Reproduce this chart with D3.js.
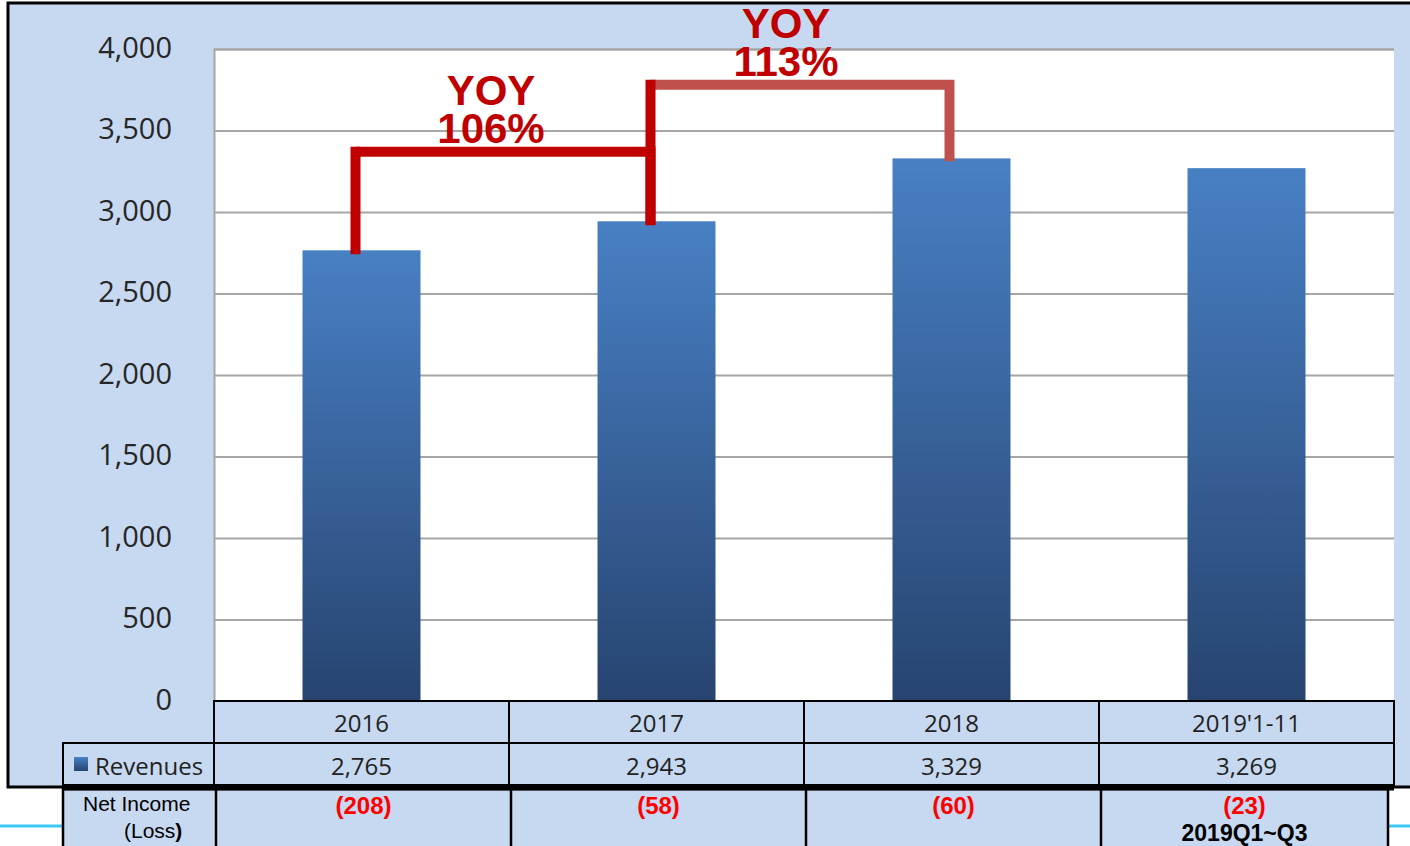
<!DOCTYPE html>
<html>
<head>
<meta charset="utf-8">
<script src="https://cdn.jsdelivr.net/npm/d3@7"></script>
<style>
  html, body { margin: 0; padding: 0; background: #fff; }
  svg { display: block; }
</style>
</head>
<body>
<div id="chart"></div>
<script>
// chart data
const categories = ["2016", "2017", "2018", "2019'1-11"];
const revenues = [2765, 2943, 3329, 3269];
const netIncome = ["(208)", "(58)", "(60)", "(23)"];
const netIncomeNote = ["", "", "", "2019Q1~Q3"];
const yTicks = [0, 500, 1000, 1500, 2000, 2500, 3000, 3500, 4000];

// YOY brackets: from / to category, height of the bracket (in revenue units), label
const yoyFrom = ["2016", "2017"];
const yoyTo = ["2017", "2018"];
const yoyLevel = [3370, 3780];
const yoyLabel = ["106%", "113%"];
const yoyColor = ["#C00000", "#C0504D"];

const width = 1410, height = 846;
const plot = { left: 214, right: 1394, top: 49, bottom: 701 };

const svg = d3.select("#chart").append("svg")
    .attr("width", width)
    .attr("height", height);

const defs = svg.append("defs");
const grad = defs.append("linearGradient")
    .attr("id", "barGrad")
    .attr("x1", 0).attr("y1", 0).attr("x2", 0).attr("y2", 1);
grad.append("stop").attr("offset", "0%").attr("stop-color", "#4880C4");
grad.append("stop").attr("offset", "100%").attr("stop-color", "#274470");

// scales
const x = d3.scaleBand()
    .domain(categories)
    .range([plot.left, plot.right])
    .paddingInner(0.6)
    .paddingOuter(0.3);

const y = d3.scaleLinear()
    .domain([0, 4000])
    .range([plot.bottom, plot.top]);

const step = x.step();
const colLeft = c => x(c) - x.paddingOuter() * step;

// outer frame (chart area)
svg.append("rect")
    .attr("x", 8).attr("y", 3)
    .attr("width", 1420).attr("height", 784)
    .attr("fill", "#C6D9F0")
    .attr("stroke", "#000")
    .attr("stroke-width", 3);

// cyan slide rule under the table
svg.append("line")
    .attr("x1", 0).attr("x2", width)
    .attr("y1", 826).attr("y2", 826)
    .attr("stroke", "#3CC8F5")
    .attr("stroke-width", 3);

// plot area
svg.append("rect")
    .attr("x", plot.left).attr("y", plot.top)
    .attr("width", plot.right - plot.left)
    .attr("height", plot.bottom - plot.top)
    .attr("fill", "#fff");

// gridlines + y axis
const yAxis = d3.axisLeft(y)
    .tickValues(yTicks)
    .tickSize(-(plot.right - plot.left))
    .tickPadding(42)
    .tickFormat(d3.format(","));

const gy = svg.append("g")
    .attr("transform", `translate(${plot.left},0)`)
    .call(yAxis);
gy.select(".domain")
    .attr("stroke", "#A6A6A6")
    .attr("stroke-width", 2);
gy.selectAll(".tick line")
    .attr("stroke", "#A6A6A6")
    .attr("stroke-width", 2);
gy.selectAll(".tick text")
    .attr("fill", "#262626")
    .style("font-family", "'Open Sans', sans-serif")
    .style("font-size", "29px")
    .attr("dy", "0.28em");

// bars
svg.append("g")
  .selectAll("rect")
  .data(revenues)
  .join("rect")
    .attr("x", (d, i) => x(categories[i]))
    .attr("y", d => y(d))
    .attr("width", x.bandwidth())
    .attr("height", d => y(0) - y(d))
    .attr("fill", "url(#barGrad)");

// YOY brackets
const cx = c => x(c) + x.bandwidth() / 2 - 6;
const valueOf = c => revenues[categories.indexOf(c)];
const brackets = svg.append("g").attr("fill", "none");

yoyFrom.forEach((from, i) => {
  const to = yoyTo[i];
  const ly = y(yoyLevel[i]);
  // top bar + right leg in bracket colour
  brackets.append("path")
      .attr("d", `M${cx(from)},${ly} H${cx(to) + (i ? 4 : 0)} V${y(valueOf(to)) + 3}`)
      .attr("stroke", yoyColor[i])
      .attr("stroke-width", 10);
});
yoyFrom.forEach((from, i) => {
  // left legs are drawn in dark red
  const ly = y(yoyLevel[i]);
  brackets.append("line")
      .attr("x1", cx(from)).attr("x2", cx(from))
      .attr("y1", ly - 5).attr("y2", y(valueOf(from)) + 4)
      .attr("stroke", "#C00000")
      .attr("stroke-width", 10);
});

const yoyText = svg.append("g")
    .attr("fill", "#C00000")
    .attr("text-anchor", "middle")
    .style("font-family", "'Liberation Sans', Arial, sans-serif")
    .style("font-weight", "bold")
    .style("font-size", "42px");

yoyFrom.forEach((from, i) => {
  const mx = (cx(from) + cx(yoyTo[i])) / 2 - 12;
  const ly = y(yoyLevel[i]);
  const t = yoyText.append("text");
  t.append("tspan").attr("x", mx).attr("y", ly - 47).text("YOY");
  t.append("tspan").attr("x", mx).attr("y", ly - 9).text(yoyLabel[i]);
});

// data table
const table = svg.append("g");
const row1 = { top: 701, h: 42 };
const row2 = { top: 743, h: 42 };
const row3 = { top: 789, h: 70 };
const labelLeft = 63;
const tableFont = "'Open Sans', sans-serif";

categories.forEach((c, i) => {
  const x0 = colLeft(c);
  [row1, row2].forEach(r => {
    table.append("rect")
        .attr("x", x0).attr("y", r.top)
        .attr("width", step).attr("height", r.h)
        .attr("fill", "#C6D9F0")
        .attr("stroke", "#000")
        .attr("stroke-width", 2);
  });
  table.append("text")
      .attr("x", x0 + step / 2).attr("y", row1.top + 31)
      .attr("text-anchor", "middle")
      .attr("fill", "#222")
      .style("font-family", tableFont)
      .style("font-size", "24px")
      .text(c);
  table.append("text")
      .attr("x", x0 + step / 2).attr("y", row2.top + 32)
      .attr("text-anchor", "middle")
      .attr("fill", "#222")
      .style("font-family", tableFont)
      .style("font-size", "24px")
      .text(d3.format(",")(revenues[i]));
});

// legend cell
table.append("rect")
    .attr("x", labelLeft).attr("y", row2.top)
    .attr("width", plot.left - labelLeft).attr("height", row2.h)
    .attr("fill", "#C6D9F0")
    .attr("stroke", "#000")
    .attr("stroke-width", 2);
table.append("rect")
    .attr("x", 74).attr("y", row2.top + 14)
    .attr("width", 14).attr("height", 14)
    .attr("fill", "url(#barGrad)");
table.append("text")
    .attr("x", 95).attr("y", row2.top + 32)
    .attr("fill", "#222")
    .style("font-family", tableFont)
    .style("font-size", "24px")
    .text("Revenues");

// net income row (separate table pasted underneath)
const row3Right = plot.right - 6;
table.append("rect")
    .attr("x", labelLeft).attr("y", row3.top)
    .attr("width", row3Right - labelLeft).attr("height", row3.h)
    .attr("fill", "#C6D9F0")
    .attr("stroke", "#000")
    .attr("stroke-width", 2.5);
const row3Edges = categories.map(c => colLeft(c) + 2);
row3Edges.forEach(e => {
  table.append("line")
      .attr("x1", e).attr("x2", e)
      .attr("y1", row3.top).attr("y2", row3.top + row3.h)
      .attr("stroke", "#000")
      .attr("stroke-width", 2.5);
});
table.append("line")
    .attr("x1", labelLeft - 1).attr("x2", plot.right)
    .attr("y1", row3.top - 1).attr("y2", row3.top - 1)
    .attr("stroke", "#000")
    .attr("stroke-width", 5);

const nlab = table.append("text")
    .attr("fill", "#000")
    .style("font-family", "'Liberation Sans', Arial, sans-serif")
    .style("font-size", "21px");
nlab.append("tspan").attr("x", 83).attr("y", 811).text("Net Income");
nlab.append("tspan").attr("x", 124).attr("y", 838).text("(Loss");
nlab.append("tspan").style("font-weight", "bold").text(")");

netIncome.forEach((v, i) => {
  const left = row3Edges[i];
  const right = i < categories.length - 1 ? row3Edges[i + 1] : row3Right;
  table.append("text")
      .attr("x", (left + right) / 2).attr("y", 814)
      .attr("text-anchor", "middle")
      .attr("fill", "#FF0000")
      .style("font-family", "'Liberation Sans', Arial, sans-serif")
      .style("font-weight", "bold")
      .style("font-size", "24px")
      .text(v);
  if (netIncomeNote[i]) {
    table.append("text")
        .attr("x", (left + right) / 2).attr("y", 841)
        .attr("text-anchor", "middle")
        .attr("fill", "#000")
        .style("font-family", "'Liberation Sans', Arial, sans-serif")
        .style("font-weight", "bold")
        .style("font-size", "23px")
        .text(netIncomeNote[i]);
  }
});
</script>
</body>
</html>
